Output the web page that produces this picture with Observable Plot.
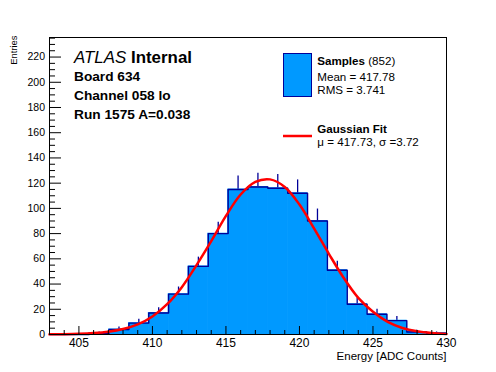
<!DOCTYPE html>
<html>
<head>
<meta charset="utf-8">
<script src="https://cdn.jsdelivr.net/npm/d3@7"></script>
<script src="https://cdn.jsdelivr.net/npm/@observablehq/plot@0.6"></script>
<style>
  html, body { margin: 0; padding: 0; background: #fff; }
  #wrap { position: relative; width: 496px; height: 372px; overflow: hidden; }
  #wrap svg { display: block; }
  #overlay { position: absolute; left: 0; top: 0; pointer-events: none; }
</style>
</head>
<body>
<div id="wrap"></div>
<script>
// ---- data ----
const binLo = [403, 404.35, 405.7, 407.05, 408.4, 409.75, 411.1, 412.45, 413.8, 415.15,
               416.5, 417.85, 419.2, 420.55, 421.9, 423.25, 424.6, 425.95, 427.3, 428.65];
const binWidth = 1.35;
const counts = [0, 0, 1, 4, 9, 17, 32, 54, 80, 115,
                117, 116, 112, 90, 51, 24, 16, 11, 2, 1];

const fitX = [403, 404, 405, 406, 407, 408, 409, 410, 411, 412, 413, 414, 415, 416,
              417, 418, 419, 420, 421, 422, 423, 424, 425, 426, 427, 428, 429, 430];
const fitY = [0.1, 0.2, 0.5, 1.1, 2.2, 4.3, 8.0, 14.3, 24, 37.5, 55, 74, 94, 111,
              121, 123, 117, 103, 84, 64, 45, 29, 18, 10, 5.2, 2.5, 1.1, 0.45];

const xMajor = [405, 410, 415, 420, 425, 430];
const xMinor = [403, 404, 406, 407, 408, 409, 411, 412, 413, 414, 416, 417, 418, 419,
                421, 422, 423, 424, 426, 427, 428, 429];
const yMajor = [0, 20, 40, 60, 80, 100, 120, 140, 160, 180, 200, 220];
const yMinor = [5, 10, 15, 25, 30, 35, 45, 50, 55, 65, 70, 75, 85, 90, 95, 105, 110, 115,
                125, 130, 135, 145, 150, 155, 165, 170, 175, 185, 190, 195, 205, 210, 215,
                225, 230, 235];

const xDomain = [403, 430];
const yDomain = [0, 235.5];

const titleLines = ["Board 634", "Channel 058 lo", "Run 1575 A=0.038"];
const xLabel = "Energy [ADC Counts]";
const yLabel = "Entries";

// ---- derived tables ----
const bins = binLo.map((lo, i) => ({lo, hi: lo + binWidth, mid: lo + binWidth / 2, n: counts[i]}));
const stepPts = bins.map(b => ({x: b.lo, y: b.n})).concat([{x: bins[bins.length - 1].hi, y: bins[bins.length - 1].n}]);
const errs = bins.filter(b => b.n > 0).map(b => ({x: b.mid, y1: b.n - Math.sqrt(b.n), y2: b.n + Math.sqrt(b.n)}));
const fit = fitX.map((x, i) => ({x, y: fitY[i]}));

const W = 496, H = 372, mL = 49, mR = 50, mT = 37, mB = 38;
const fW = W - mL - mR, fH = H - mT - mB;
const FONT = "'Liberation Sans', Arial, Helvetica, sans-serif";
const FILL = "#0099ff", EDGE = "#000099", RED = "#ff0000";

const chart = Plot.plot({
  width: W, height: H,
  marginLeft: mL, marginRight: mR, marginTop: mT, marginBottom: mB,
  x: {domain: xDomain},
  y: {domain: yDomain},
  style: {fontFamily: FONT, color: "black", background: "white"},
  marks: [
    Plot.ruleX(errs, {x: "x", y1: "y1", y2: "y2", stroke: EDGE, strokeWidth: 1.3}),
    Plot.rect(bins, {x1: "lo", x2: "hi", y1: 0, y2: "n", fill: FILL, stroke: FILL, strokeWidth: 0.8}),
    Plot.line(stepPts, {x: "x", y: "y", curve: "step-after", stroke: EDGE, strokeWidth: 1.4}),
    Plot.line(fit, {x: "x", y: "y", curve: "catmull-rom", stroke: RED, strokeWidth: 2.5}),
    Plot.frame({stroke: "black", strokeWidth: 1}),
    Plot.tickX(xMajor, {x: d => d, insetTop: fH - 8, stroke: "black"}),
    Plot.tickX(xMinor, {x: d => d, insetTop: fH - 4, stroke: "black"}),
    Plot.tickY(yMajor, {y: d => d, insetRight: fW - 12, stroke: "black"}),
    Plot.tickY(yMinor, {y: d => d, insetRight: fW - 6, stroke: "black"}),
    Plot.axisX(xMajor, {tickSize: 0, tickPadding: 4.2, fontSize: 12, label: null}),
    Plot.axisY(yMajor, {tickSize: 0, tickPadding: 4.5, fontSize: 10.5, label: null}),
    Plot.text([xLabel], {frameAnchor: "bottom-right", textAnchor: "end", lineAnchor: "top", dy: 17.5, fontSize: 11.5}),
    Plot.text([yLabel], {frameAnchor: "top-left", textAnchor: "end", lineAnchor: "middle", rotate: -90, dx: -35.2, dy: -2, fontSize: 9.4})
  ]
});
document.getElementById("wrap").appendChild(chart);

// ---- overlay: ATLAS label block and legend ----
const ov = d3.select("#wrap").append("svg")
  .attr("id", "overlay").attr("width", W).attr("height", H)
  .style("font-family", FONT);

const t0 = ov.append("text").attr("x", 74).attr("y", 62.5).attr("font-size", 16.9);
t0.append("tspan").attr("font-style", "italic").text("ATLAS");
t0.append("tspan").attr("font-weight", "bold").text(" Internal");

const baselines = [80.7, 100, 119];
titleLines.forEach((s, i) => {
  ov.append("text").attr("x", 74).attr("y", baselines[i]).attr("font-size", 13.7)
    .attr("font-weight", "bold").text(s);
});

// legend
ov.append("rect").attr("x", 283.5).attr("y", 53.5).attr("width", 28).attr("height", 43)
  .attr("fill", FILL).attr("stroke", EDGE).attr("stroke-width", 1);
const l1 = ov.append("text").attr("x", 317.3).attr("y", 65).attr("font-size", 11.6);
l1.append("tspan").attr("font-weight", "bold").text("Samples");
l1.append("tspan").text(" (852)");
ov.append("text").attr("x", 317.3).attr("y", 80.7).attr("font-size", 11.6).text("Mean = 417.78");
ov.append("text").attr("x", 317.3).attr("y", 94).attr("font-size", 11.6).text("RMS = 3.741");

ov.append("line").attr("x1", 283).attr("x2", 312).attr("y1", 136).attr("y2", 136)
  .attr("stroke", RED).attr("stroke-width", 2.5);
ov.append("text").attr("x", 317.3).attr("y", 132.7).attr("font-size", 11.6)
  .attr("font-weight", "bold").text("Gaussian Fit");
ov.append("text").attr("x", 317.3).attr("y", 145.5).attr("font-size", 11.6)
  .text("\u03bc = 417.73, \u03c3 =3.72");
</script>
</body>
</html>
